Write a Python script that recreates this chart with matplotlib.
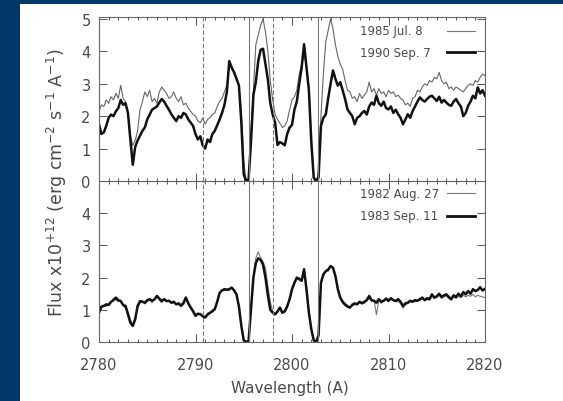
import matplotlib
matplotlib.use("Agg")
import matplotlib.pyplot as plt
from matplotlib.patches import Rectangle
import numpy as np

# Mg II h & k spectra, flux in units of 1e-12 erg cm-2 s-1 A-1
# values read at 0.25 A steps from 2780 to 2820 (8 values per 2 A per row)
flux_1985 = [
    2.15, 2.35, 2.30, 2.50, 2.40, 2.60, 2.50, 2.70,
    2.55, 2.95, 2.55, 2.45, 2.10, 1.40, 1.10, 1.25,
    1.55, 2.20, 2.45, 2.75, 2.60, 2.80, 2.45, 2.55,
    2.40, 2.75, 2.90, 2.80, 2.70, 2.55, 2.60, 2.75,
    2.55, 2.45, 2.60, 2.35, 2.40, 2.25, 2.15, 2.05,
    2.00, 1.85, 1.80, 1.95, 1.75, 1.90, 1.95, 2.05,
    2.10, 2.30, 2.45, 2.55, 2.75, 2.95, 3.60, 3.55,
    3.35, 3.20, 2.95, 2.20, 0.60, 0.00, 0.00, 1.60,
    2.80, 4.20, 4.50, 4.80, 5.00, 4.60, 4.00, 3.10,
    2.50, 2.05, 1.90, 1.78, 1.65, 1.70, 1.85, 2.20,
    2.50, 2.60, 2.80, 3.30, 3.60, 3.90, 3.55, 2.90,
    1.40, 0.15, 0.00, 0.25, 2.00, 3.30, 4.30, 4.65,
    5.00, 4.70, 4.20, 3.85, 3.60, 3.45, 3.10, 2.80,
    2.75, 2.55, 2.60, 2.45, 2.70, 2.55, 2.65, 2.75,
    3.05, 2.75, 2.85, 2.65, 2.85, 2.70, 2.75, 2.60,
    2.80, 2.70, 2.75, 2.60, 2.65, 2.55, 2.50, 2.35,
    2.40, 2.30, 2.55, 2.60, 2.80, 2.75, 2.90, 3.00,
    2.95, 3.10, 3.05, 3.20, 3.15, 3.35, 3.10, 3.00,
    3.05, 2.85, 2.90, 2.80, 2.90, 2.85, 2.80, 2.75,
    2.85, 2.95, 3.00, 2.95, 3.10, 3.05, 3.20, 3.30,
    3.25]

flux_1990 = [
    1.75, 1.45, 1.50, 1.70, 1.95, 2.05, 2.00, 2.15,
    2.25, 2.50, 2.35, 2.40, 2.10, 1.28, 0.50, 1.05,
    1.25, 1.40, 1.55, 1.65, 1.90, 2.05, 2.20, 2.25,
    2.30, 2.42, 2.53, 2.45, 2.32, 2.20, 2.06, 1.95,
    1.85, 2.00, 1.95, 2.10, 2.05, 1.90, 1.80, 1.70,
    1.45, 1.28, 1.38, 1.10, 1.00, 1.28, 1.20, 1.45,
    1.55, 1.72, 1.90, 2.10, 2.35, 2.75, 3.70, 3.50,
    3.35, 3.15, 2.95, 1.80, 0.20, 0.00, 0.05, 1.20,
    2.65, 3.05, 3.70, 4.05, 4.08, 3.60, 3.13, 2.40,
    2.05, 1.80, 1.11, 1.20, 1.16, 1.10, 1.45, 1.65,
    1.73, 2.20, 2.45, 3.00, 3.50, 4.22, 3.50, 2.80,
    1.20, 0.10, 0.00, 0.10, 1.70, 1.95, 2.05, 2.55,
    3.00, 3.41, 3.15, 2.94, 3.05, 2.80, 2.53, 2.21,
    2.10, 2.00, 1.75, 1.95, 2.00, 2.10, 2.16, 2.05,
    2.30, 2.42, 2.35, 2.63, 2.40, 2.32, 2.45, 2.25,
    2.21, 2.30, 2.10, 2.20, 2.06, 1.95, 1.75, 1.90,
    2.06, 1.95, 2.16, 2.30, 2.45, 2.58, 2.50, 2.45,
    2.53, 2.60, 2.63, 2.55, 2.47, 2.60, 2.42, 2.50,
    2.42, 2.35, 2.32, 2.45, 2.53, 2.40, 2.30, 2.00,
    2.10, 2.32, 2.45, 2.63, 2.55, 2.89, 2.70, 2.80,
    2.63]

flux_1982 = [
    0.95, 1.05, 1.15, 1.10, 1.20, 1.22, 1.35, 1.30,
    1.25, 1.30, 1.12, 1.05, 0.95, 0.70, 0.55, 0.75,
    1.05, 1.20, 1.28, 1.18, 1.25, 1.30, 1.22, 1.35,
    1.40, 1.30, 1.22, 1.35, 1.25, 1.30, 1.20, 1.22,
    1.20, 1.15, 1.18, 1.25, 1.40, 1.25, 1.10, 1.00,
    0.88, 0.85, 0.90, 0.78, 0.80, 0.90, 0.88, 1.00,
    1.05, 1.22, 1.50, 1.62, 1.60, 1.66, 1.60, 1.70,
    1.62, 1.45, 1.15, 0.55, 0.08, 0.00, 0.05, 1.05,
    2.05, 2.60, 2.80, 2.60, 2.50, 2.30, 1.75, 1.25,
    0.95, 0.90, 0.92, 1.05, 0.88, 1.00, 1.15, 1.30,
    1.60, 1.80, 1.95, 2.00, 1.92, 2.20, 1.60, 0.95,
    0.45, 0.08, 0.00, 0.25, 1.80, 2.05, 2.22, 2.20,
    2.35, 2.32, 2.00, 1.60, 1.35, 1.20, 1.12, 1.15,
    1.05, 1.20, 1.15, 1.20, 1.22, 1.25, 1.20, 1.28,
    1.35, 1.25, 1.30, 0.85, 1.30, 1.20, 1.30, 1.32,
    1.25, 1.35, 1.28, 1.30, 1.25, 1.20, 1.05, 1.15,
    1.20, 1.25, 1.28, 1.25, 1.30, 1.28, 1.35, 1.28,
    1.32, 1.30, 1.42, 1.35, 1.38, 1.45, 1.35, 1.40,
    1.42, 1.35, 1.30, 1.40, 1.35, 1.42, 1.38, 1.45,
    1.40, 1.45, 1.42, 1.48, 1.40, 1.45, 1.42, 1.40,
    1.38]

flux_1983 = [
    0.91, 1.10, 1.12, 1.17, 1.15, 1.25, 1.30, 1.38,
    1.30, 1.27, 1.15, 1.12, 0.86, 0.60, 0.50, 0.70,
    1.12, 1.27, 1.25, 1.22, 1.30, 1.33, 1.28, 1.32,
    1.43, 1.35, 1.27, 1.33, 1.27, 1.28, 1.22, 1.25,
    1.17, 1.20, 1.12, 1.20, 1.38, 1.20, 1.07, 0.95,
    0.81, 0.88, 0.86, 0.80, 0.76, 0.85, 0.91, 0.95,
    1.02, 1.25, 1.53, 1.60, 1.64, 1.62, 1.64, 1.69,
    1.60, 1.48, 1.10, 0.50, 0.05, 0.00, 0.03, 1.00,
    2.00, 2.45, 2.60, 2.55, 2.40, 2.00, 1.45, 1.00,
    0.91, 0.86, 0.95, 1.07, 0.91, 0.95, 1.10, 1.33,
    1.64, 1.84, 2.00, 1.95, 1.90, 2.26, 1.64, 0.91,
    0.40, 0.05, 0.00, 0.20, 1.84, 2.10, 2.20, 2.25,
    2.36, 2.30, 2.05, 1.64, 1.38, 1.25, 1.17, 1.10,
    1.07, 1.15, 1.20, 1.17, 1.25, 1.20, 1.25, 1.30,
    1.43, 1.30, 1.28, 1.22, 1.33, 1.25, 1.28, 1.35,
    1.28, 1.36, 1.30, 1.27, 1.33, 1.25, 1.12, 1.20,
    1.22, 1.28, 1.25, 1.30, 1.28, 1.33, 1.38, 1.30,
    1.36, 1.33, 1.48, 1.38, 1.42, 1.50, 1.40, 1.45,
    1.48, 1.40, 1.33, 1.45, 1.40, 1.50, 1.42, 1.55,
    1.48, 1.58, 1.50, 1.64, 1.58, 1.62, 1.70, 1.60,
    1.65]

labels_top = ["1985 Jul. 8", "1990 Sep. 7"]
labels_bottom = ["1982 Aug. 27", "1983 Sep. 11"]
solid_lines = [2795.5, 2802.7]    # Mg II k, h
dashed_lines = [2790.8, 2798.0]
x_ticks = [2780, 2790, 2800, 2810, 2820]

navy = "#00376b"
grey = "#555555"

fig = plt.figure(figsize=(5.63, 4.02), dpi=100, facecolor=navy)
# white page inside the navy frame
fig.patches.append(Rectangle((20 / 563, 0), 1, 1 - 5 / 402, transform=fig.transFigure,
                             facecolor="white", edgecolor="none", zorder=-10))

left, width = 99 / 563, 386 / 563
ax1 = fig.add_axes([left, 1 - 182 / 402, width, 164 / 402])
ax2 = fig.add_axes([left, 1 - 343 / 402, width, 161 / 402])


def wl(series):
    return np.linspace(2780, 2820, len(series))


ax1.plot(wl(flux_1985), flux_1985, color="#666666", lw=0.8)
ax1.plot(wl(flux_1990), flux_1990, color="#111111", lw=1.8)
ax2.plot(wl(flux_1982), flux_1982, color="#777777", lw=0.8)
ax2.plot(wl(flux_1983), flux_1983, color="#111111", lw=1.8)

for ax, labels, top in [(ax1, labels_top, 5.06), (ax2, labels_bottom, 5.0)]:
    ax.patch.set_alpha(0)
    for x in solid_lines:
        ax.axvline(x, color="#777777", lw=0.8)
    for x in dashed_lines:
        ax.axvline(x, color="#777777", lw=0.8, ls=(0, (4, 2)))
    ax.set_xlim(2780, 2820)
    ax.set_ylim(0, top)
    ax.set_xticks(x_ticks)
    ax.set_xticks(np.arange(2780, 2821, 1), minor=True)
    ax.set_yticks([0, 1, 2, 3, 4, 5] if top > 5 else [0, 1, 2, 3, 4])
    ax.tick_params(which="both", direction="in", top=True, right=True,
                   color=grey, width=0.7, labelcolor="#4a4a4a", labelsize=10.5, pad=6)
    ax.tick_params(axis="x", pad=11)
    ax.tick_params(which="major", length=6)
    ax.tick_params(which="minor", length=2.5)
    for s in ax.spines.values():
        s.set_color("#666666")
        s.set_linewidth(0.8)
    # legend drawn as text + sample line
    ys = [0.915, 0.785] if ax is ax1 else [0.925, 0.783]
    for lab, y, lw, c in zip(labels, ys, [0.8, 2.0], ["#777777", "#111111"]):
        ax.text(0.676, y, lab, transform=ax.transAxes, fontsize=8.5,
                color="#4a4a4a", va="center", ha="left")
        ax.plot([0.902, 0.974], [y, y], transform=ax.transAxes, color=c, lw=lw)

ax1.tick_params(labelbottom=False)
ax2.set_xticklabels([str(t) for t in x_ticks])

fig.text(57 / 563, 1 - 183 / 402,
         r"Flux x10$^{+12}$ (erg cm$^{-2}$ s$^{-1}$ A$^{-1}$)",
         rotation=90, ha="center", va="center", fontsize=12.5, color="#4a4a4a")
fig.text(290 / 563, 1 - 389 / 402, "Wavelength (A)", ha="center", va="center",
         fontsize=11, color="#4a4a4a")

fig.savefig("out.png", dpi=100, facecolor=navy)
